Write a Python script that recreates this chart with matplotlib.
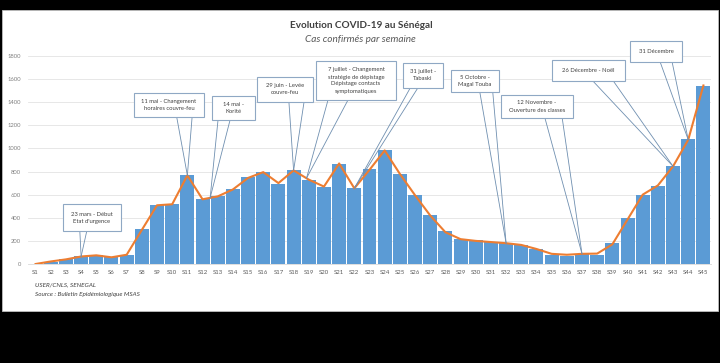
import matplotlib
matplotlib.use("Agg")
import matplotlib.pyplot as plt
from matplotlib.patches import Rectangle
from matplotlib.lines import Line2D

W, H = 720, 363

weeks = [f"S{i}" for i in range(1, 46)]
cases = [2, 20, 40, 65, 75, 57, 80, 299, 508, 517, 767, 566, 586, 652, 753, 793, 690, 810, 724, 667,
         868, 658, 825, 983, 782, 601, 422, 287, 215, 207, 192, 178, 161, 130, 78, 70, 88, 78, 184, 396,
         595, 678, 845, 1083, 1543]
trend = [0, 22, 40, 65, 75, 58, 80, 295, 508, 517, 767, 560, 585, 645, 745, 795, 700, 810, 730, 670,
         870, 655, 815, 983, 780, 595, 420, 275, 215, 200, 190, 180, 165, 130, 88, 80, 88, 90, 170, 385,
         600, 680, 845, 1075, 1545]
y_ticks = [0, 200, 400, 600, 800, 1000, 1200, 1400, 1600, 1800]

# callouts: text, target x (week index), box in image pixels (x0, y0, x1, y1), base fractions
callout_texts = ["23 mars - Début\nEtat d'urgence",
                 "11 mai - Changement\nhoraires couvre-feu",
                 "14 mai -\nKorité",
                 "29 juin - Levée\ncouvre-feu",
                 "7 juillet - Changement\nstratégie de dépistage\nDépistage contacts\nsymptomatiques",
                 "31 juillet -\nTabaski",
                 "5 Octobre -\nMagal Touba",
                 "12 Novembre -\nOuverture des classes",
                 "26 Décembre - Noël",
                 "31 Décembre"]
callout_weeks = [3, 10, 11.5, 17, 17.85, 21, 31, 36, 42, 43]
callout_boxes = [(63, 204, 121, 231), (134, 93, 204, 117), (212, 96, 255, 120), (257, 77, 313, 102),
                 (316, 61, 396, 100), (403, 63, 443, 88), (451, 70, 499, 92), (501, 95, 573, 118),
                 (552, 60, 625, 81), (630, 41, 682, 62)]
callout_bases = [(0.29, 0.41), (0.61, 0.83), (0.14, 0.42), (0.57, 0.84), (0.15, 0.40),
                 (0.18, 0.37), (0.60, 0.87), (0.61, 0.85), (0.56, 0.84), (0.58, 0.81)]

FONT = ["Lato", "DejaVu Sans"]
plt.rcParams['font.family'] = FONT

fig = plt.figure(figsize=(W / 100, H / 100), dpi=100, facecolor="black")

def fx(px):
    return px / W

def fy(py):
    return (H - py) / H

# white chart area
fig.add_artist(Rectangle((fx(2), fy(311)), fx(718) - fx(2), fy(10) - fy(311),
                         transform=fig.transFigure, facecolor="white", edgecolor="#bfbfbf",
                         linewidth=0.6, zorder=0))

ax = fig.add_axes([fx(28), fy(264), fx(711) - fx(28), fy(56) - fy(264)])
ax.set_facecolor("white")
x = list(range(len(weeks)))
ax.bar(x, cases, width=0.92, color="#5B9BD5", zorder=2)
ax.plot(x, trend, color="#ED7D31", linewidth=1.5, zorder=3)
ax.set_xlim(-0.5, len(weeks) - 0.5)
ax.set_ylim(0, 1800)
ax.set_yticks(y_ticks)
ax.set_yticklabels([str(v) for v in y_ticks], fontsize=4.2, color="#7f7f7f")
ax.set_xticks(x)
ax.set_xticklabels(weeks, fontsize=4.3, color="#595959")
ax.tick_params(axis="both", length=0, pad=4.5)
ax.tick_params(axis="y", pad=5)
ax.grid(axis="y", color="#e3e3e3", linewidth=0.6, zorder=0)
for s in ["top", "right", "left"]:
    ax.spines[s].set_visible(False)
ax.spines["bottom"].set_color("#d9d9d9")
ax.spines["bottom"].set_linewidth(0.6)

fig.text(fx(361), fy(25), "Evolution COVID-19 au Sénégal", ha="center", va="center",
         fontsize=7.2, fontweight="bold", color="#404040")
fig.text(fx(360), fy(39), "Cas confirmés par semaine", ha="center", va="center",
         fontsize=7.2, style="italic", color="#595959")
fig.text(fx(35), fy(285), "USER/CNLS, SENEGAL", ha="left", va="center",
         fontsize=4.6, style="italic", color="#404040")
fig.text(fx(35), fy(294), "Source : Bulletin Epidémiologique MSAS", ha="left", va="center",
         fontsize=4.6, style="italic", color="#404040")

# callouts
for txt, wk, box, base in zip(callout_texts, callout_weeks, callout_boxes, callout_bases):
    x0, y0, x1, y1 = box
    if float(wk).is_integer():
        val = trend[int(wk)]
    else:
        i = int(wk)
        f = wk - i
        val = trend[i] * (1 - f) + trend[i + 1] * f
    dx, dy = ax.transData.transform((wk, val))
    tx, ty = dx / W, dy / H
    for b in base:
        bx = x0 + b * (x1 - x0)
        fig.add_artist(Line2D([fx(bx), tx], [fy(y1), ty], transform=fig.transFigure,
                              color="#6f8fb0", linewidth=0.6, zorder=5))
    fig.add_artist(Rectangle((fx(x0), fy(y1)), fx(x1) - fx(x0), fy(y0) - fy(y1),
                             transform=fig.transFigure, facecolor="white",
                             edgecolor="#8fa8c4", linewidth=0.8, zorder=6))
    fig.text(fx((x0 + x1) / 2), fy((y0 + y1) / 2), txt, ha="center", va="center",
             fontsize=4.2, color="#404040", linespacing=1.5, zorder=7)

fig.savefig("out.png", dpi=100, facecolor="black")
